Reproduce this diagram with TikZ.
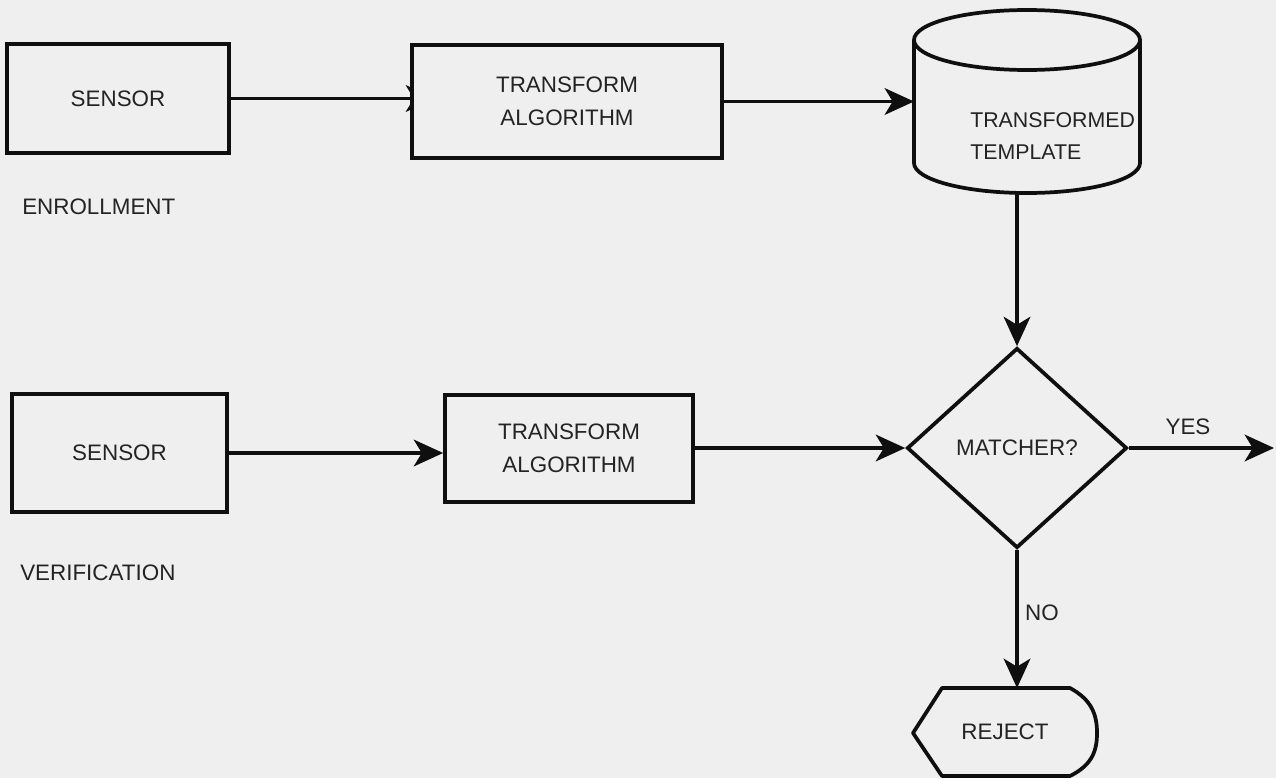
\documentclass[tikz,border=0pt]{standalone}
\usepackage{fontspec}
\setmainfont{Liberation Sans}
\usetikzlibrary{arrows.meta,shapes.geometric,backgrounds,calc}
\definecolor{paper}{RGB}{239,239,239}
\definecolor{ink}{RGB}{15,15,15}
\definecolor{txt}{RGB}{35,35,35}
\begin{document}
\begin{tikzpicture}[x=0.75pt,y=-0.75pt,
  every node/.style={text=txt, font=\fontsize{16.8}{25}\selectfont},
  box/.style={draw=ink, line width=2.8pt, fill=paper, inner sep=0pt, align=center},
  frame/.style={draw=ink, line width=2.8pt, fill=paper, line join=round},
  flow/.style={draw=ink, line width=2.6pt, -{Stealth[length=22pt,width=20pt,inset=6pt]}},
  slot/.style={inner sep=0pt, outer sep=0pt},
  caption/.style={inner sep=0pt, anchor=west}
]
\useasboundingbox (0,0) rectangle (1276,778);

% process boxes
\node[box, minimum width=166.5pt, minimum height=81.75pt] (s1) at (118,98.5) {SENSOR};
\node[box, minimum width=232.5pt, minimum height=84.75pt] (tr1) at (567,101.5) {TRANSFORM\\ALGORITHM};
\node[box, minimum width=161.25pt, minimum height=88.5pt] (s2) at (119.5,453) {SENSOR};
\node[box, minimum width=186pt, minimum height=80.25pt] (tr2) at (569,448.5) {TRANSFORM\\ALGORITHM};

% stored template (cylinder)
\draw[frame] (914,40) -- (914,163) arc[start angle=180, end angle=0, x radius=113, y radius=30]
  -- (1140,40) arc[start angle=0, end angle=-180, x radius=113, y radius=30] -- cycle;
\draw[ink, line width=2.8pt] (914,40) arc[start angle=180, end angle=0, x radius=113, y radius=30];
\node[slot, minimum width=169.5pt, minimum height=137.25pt] (cyl) at (1027,101.5) {};
\node[caption, align=left, font=\fontsize{16}{24}\selectfont] (tpltxt) at (970,136) {TRANSFORMED\\TEMPLATE};

% decision
\node[diamond, draw=ink, line width=2.8pt, fill=paper, inner sep=0pt,
      minimum width=165pt, minimum height=150pt] (dia) at (1017,448) {MATCHER?};

% terminal
\draw[frame] (913,733) -- (942,688) -- (1070,688)
  .. controls (1092,700) and (1097,715) .. (1097,733)
  .. controls (1097,751) and (1092,765) .. (1070,776) -- (942,776) -- cycle;
\node[slot, minimum width=138pt, minimum height=66pt] (rej) at (1005,732) {REJECT};

% side captions
\node[caption] (enr) at (22,207) {ENROLLMENT};
\node[caption] (ver) at (20,573) {VERIFICATION};

% connectors
\coordinate (tip1) at ($(tr1.west)+(25,0)$);
\begin{pgfonlayer}{background}
  \fill[paper] (0,0) rectangle (1276,778);
  \draw[flow] (s1.east) -- (s1.east -| tip1);
\end{pgfonlayer}
\draw[flow] (tr1.east) -- (tr1.east -| cyl.west);
\draw[flow] (cyl.south -| dia.north) -- (dia.north);
\draw[flow] (s2.east) -- (s2.east -| tr2.west);
\draw[flow] (tr2.east |- dia.west) -- (dia.west);
\coordinate (yesend) at (1274,448);
\draw[flow] (dia.east) -- (yesend);
\draw[flow] (dia.south) -- (dia.south |- rej.north);
\node (yes) at (1188,427) {YES};
\node (no) at (1042,613) {NO};
\end{tikzpicture}
\end{document}
